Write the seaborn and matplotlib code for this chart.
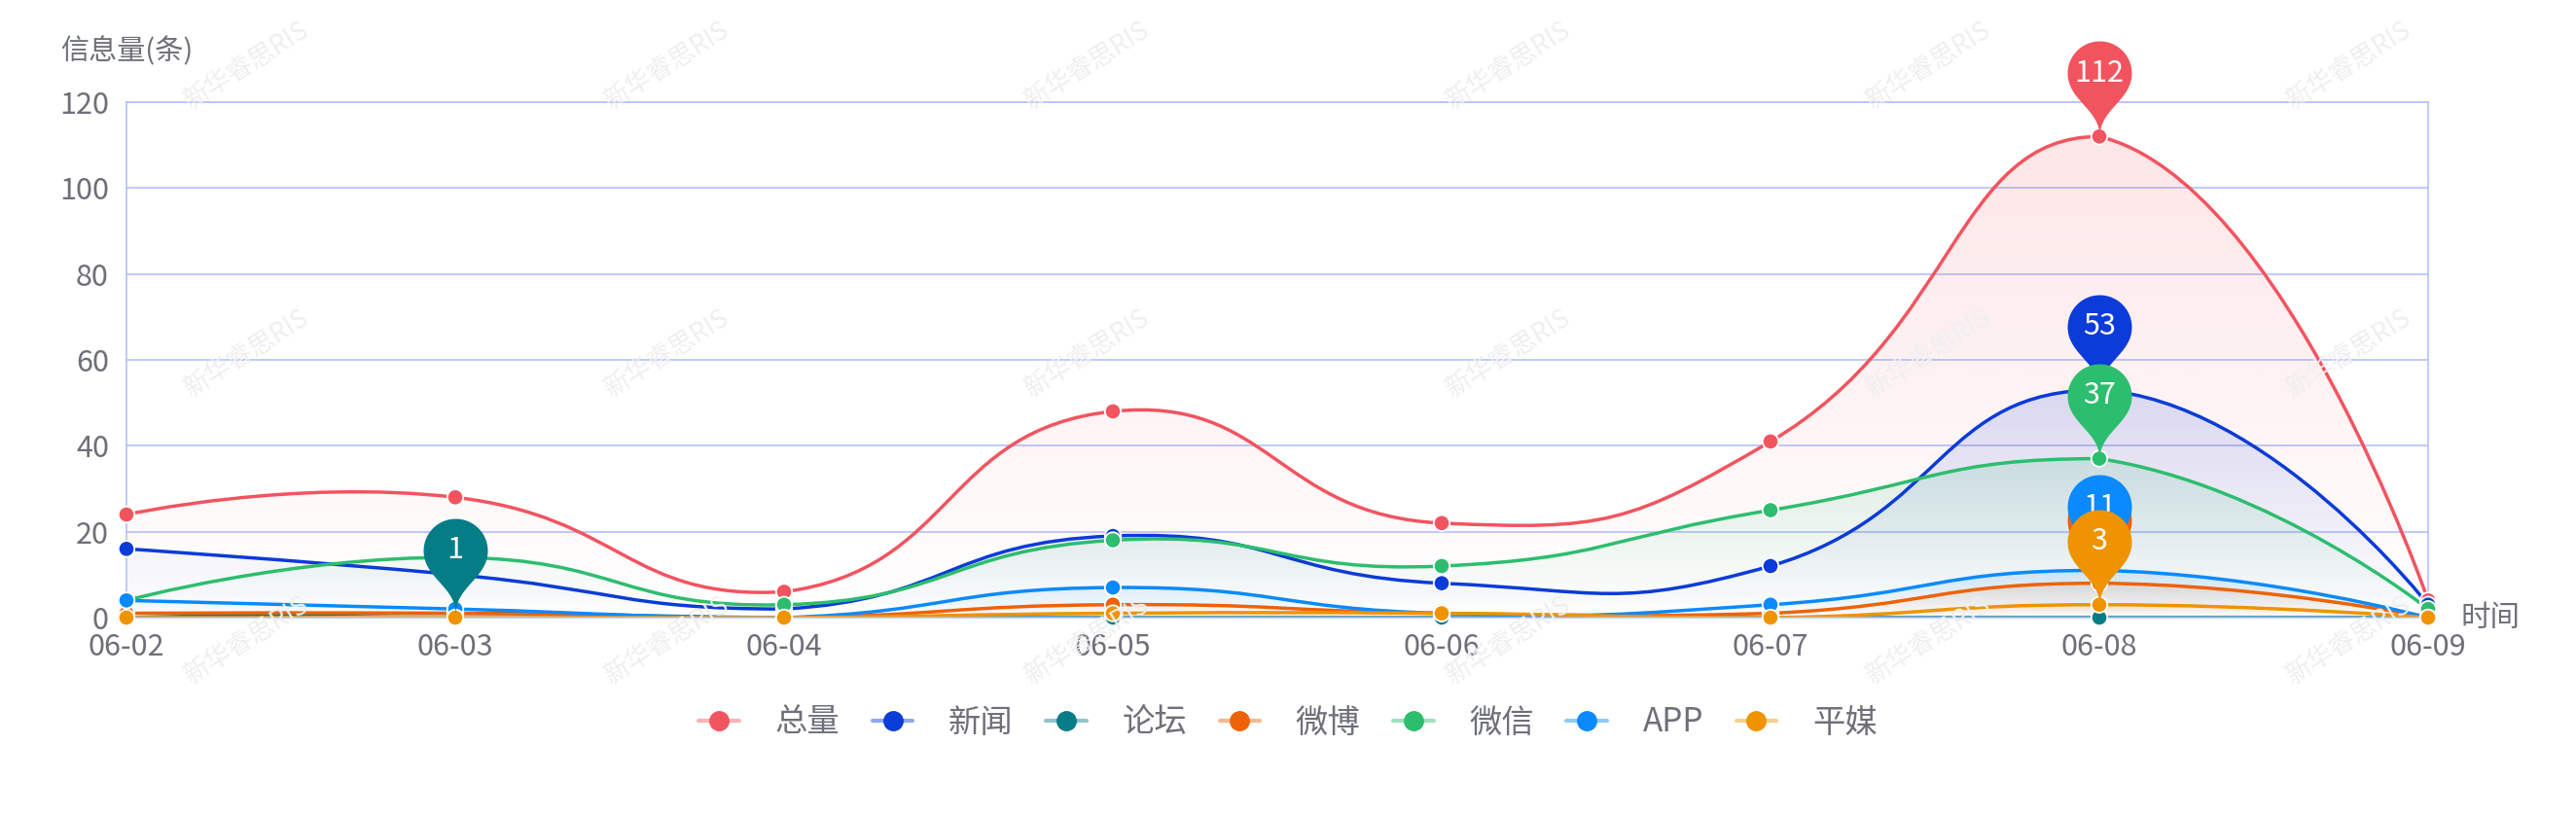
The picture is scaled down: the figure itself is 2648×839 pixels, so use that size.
import numpy as np
import pandas as pd
import matplotlib
matplotlib.use('Agg')
import matplotlib.pyplot as plt
import seaborn as sns
from matplotlib.path import Path
from matplotlib.patches import PathPatch
from matplotlib.lines import Line2D
from matplotlib.legend_handler import HandlerTuple
from matplotlib.colors import to_rgb

# data
dates = ['06-02', '06-03', '06-04', '06-05', '06-06', '06-07', '06-08', '06-09']
series_names = ['总量', '新闻', '论坛', '微博', '微信', 'APP', '平媒']
total = [24, 28, 6, 48, 22, 41, 112, 4]
news = [16, 10, 2, 19, 8, 12, 53, 3]
forum = [0, 1, 0, 0, 0, 0, 0, 0]
weibo = [1, 1, 0, 3, 1, 1, 8, 0]
wechat = [4, 14, 3, 18, 12, 25, 37, 2]
app = [4, 2, 0, 7, 1, 3, 11, 0]
print_media = [0, 0, 0, 1, 1, 0, 3, 0]
y_ticks = [0, 20, 40, 60, 80, 100, 120]

colors = ['#f2545f', '#0b3bd8', '#047d87', '#ee6206', '#2dbd6e', '#0a8afc', '#ef9300']
all_values = [total, news, forum, weibo, wechat, app, print_media]

rows = []
for name, vals in zip(series_names, all_values):
    for i, v in enumerate(vals):
        rows.append({'series': name, 'idx': i, 'value': v})
df = pd.DataFrame(rows)

sns.set_theme(style='white')
plt.rcParams['font.family'] = ['Noto Sans CJK SC', 'DejaVu Sans']
text_color = '#6e7079'
grid_color = '#b4c1fb'

fig = plt.figure(figsize=(26.48, 8.39), dpi=100)
ax = fig.add_axes([130 / 2648, 1 - 635 / 839, (2496 - 130) / 2648, (635 - 105) / 839])
ax.set_xlim(0, len(dates) - 1)
ax.set_ylim(0, 120)

# faint watermark
for yy in [40, 215, 390]:
    for xx in range(150, 1568, 256):
        fig.text(xx / 1568, 1 - yy / 497, '新华睿思RIS', rotation=32, color='#efeff1',
                 fontsize=19, ha='center', va='center', zorder=0)


def smooth_curve(xs, ys, smooth=0.5):
    pts = ax.transData.transform(np.column_stack([xs, ys]).astype(float))
    lo, hi = pts.min(axis=0), pts.max(axis=0)
    n = len(pts)
    cps = []
    for i in range(n):
        p = pts[i]
        if i == 0 or i == n - 1:
            cps.append((p, p))
            continue
        v = (pts[i + 1] - pts[i - 1]) * smooth
        d0 = np.hypot(*(p - pts[i - 1]))
        d1 = np.hypot(*(p - pts[i + 1]))
        s = d0 + d1
        if s:
            d0, d1 = d0 / s, d1 / s
        c0 = np.clip(p - v * d0, lo, hi)
        c1 = np.clip(p + v * d1, lo, hi)
        cps.append((c0, c1))
    verts = [pts[0]]
    codes = [Path.MOVETO]
    for i in range(n - 1):
        verts += [cps[i][1], cps[i + 1][0], pts[i + 1]]
        codes += [Path.CURVE4] * 3
    verts = ax.transData.inverted().transform(np.array(verts))
    return verts, codes


x = np.arange(len(dates))

# gradient areas
for k, (vals, col) in enumerate(zip(all_values, colors)):
    verts, codes = smooth_curve(x, vals)
    area_verts = np.vstack([verts, [[x[-1], 0], [x[0], 0], verts[0]]])
    area_codes = codes + [Path.LINETO, Path.LINETO, Path.CLOSEPOLY]
    patch = PathPatch(Path(area_verts, area_codes), facecolor='none', edgecolor='none',
                      transform=ax.transData)
    ax.add_patch(patch)
    grad = np.zeros((256, 1, 4))
    grad[..., :3] = to_rgb(col)
    grad[:, 0, 3] = np.linspace(0.15, 0.0, 256)
    top = max(max(vals), 0.5)
    im = ax.imshow(grad, extent=[x[0], x[-1], 0, top], origin='upper', aspect='auto',
                   zorder=1 + k * 0.01, interpolation='bilinear')
    im.set_clip_path(patch)

# smooth lines
for k, (vals, col) in enumerate(zip(all_values, colors)):
    verts, codes = smooth_curve(x, vals)
    ax.add_patch(PathPatch(Path(verts, codes), facecolor='none', edgecolor=col, lw=2.5,
                           zorder=2 + k * 0.01, capstyle='round'))

sns.scatterplot(data=df, x='idx', y='value', hue='series', hue_order=series_names,
                palette=colors, s=140, edgecolor='white', linewidth=1.3, legend=False,
                ax=ax, zorder=3, clip_on=False)

# max pins (echarts style)
r_px, c_px = 33.0, 65.0
u = c_px + 13.8
dy = r_px ** 2 / u
ang = np.arcsin(dy / r_px)
dx = np.cos(ang) * r_px
tx, ty = np.sin(ang), np.cos(ang)
cp_len, cp_len2 = r_px * 0.6, r_px * 0.7
theta = np.linspace(-ang, np.pi + ang, 60)
arc = np.column_stack([r_px * np.cos(theta), c_px + r_px * np.sin(theta)])
t = np.linspace(0, 1, 20)[:, None]


def bez(p0, p1, p2, p3):
    p0, p1, p2, p3 = map(np.array, (p0, p1, p2, p3))
    return (1 - t) ** 3 * p0 + 3 * (1 - t) ** 2 * t * p1 + 3 * (1 - t) * t ** 2 * p2 + t ** 3 * p3


left = (-dx, c_px - dy)
right = (dx, c_px - dy)
b1 = bez(left, (-dx + tx * cp_len, c_px - dy - ty * cp_len), (0, cp_len2), (0, 0))
b2 = bez((0, 0), (0, cp_len2), (dx - tx * cp_len, c_px - dy - ty * cp_len), right)
pin_verts = np.vstack([arc, b1, b2])
pin_path = Path(pin_verts, closed=False)
top_px = pin_verts[:, 1].max()
ms_pt = 2 * top_px * 72 / fig.dpi

for k, (vals, col) in enumerate(zip(all_values, colors)):
    i = int(np.argmax(vals))
    ax.scatter([x[i]], [vals[i]], marker=pin_path, s=ms_pt ** 2, color=col,
               linewidths=0, zorder=5 + k * 0.01, clip_on=False)
    ax.annotate(str(vals[i]), xy=(x[i], vals[i]), xytext=(0, c_px * 72 / fig.dpi),
                textcoords='offset points', ha='center', va='center', color='white',
                fontsize=22, zorder=5.005 + k * 0.01)

# axes styling
ax.set_xticks(x)
ax.set_xticklabels(dates)
ax.set_yticks(y_ticks)
ax.tick_params(axis='both', length=0, labelsize=22, colors=text_color)
ax.tick_params(axis='x', pad=11)
ax.tick_params(axis='y', pad=13)
ax.set_xlabel('')
ax.set_ylabel('')
ax.grid(axis='y', color=grid_color, lw=1.2)
ax.grid(axis='x', visible=False)
for sp in ['left', 'right', 'top', 'bottom']:
    ax.spines[sp].set_color(grid_color)
    ax.spines[sp].set_linewidth(1.2)
ax.set_axisbelow(True)

ax.annotate('信息量(条)', xy=(0, 1), xycoords='axes fraction', xytext=(0, 37),
            textcoords='offset points', ha='center', va='center', fontsize=21, color=text_color)
ax.annotate('时间', xy=(1, 0), xycoords='axes fraction', xytext=(24, 0),
            textcoords='offset points', ha='left', va='center', fontsize=22, color=text_color)

handles = [(Line2D([0], [0], color=c, lw=3, alpha=0.45),
            Line2D([0], [0], color=c, marker='o', ms=14, lw=0)) for c in colors]
fig.legend(handles, series_names, handler_map={tuple: HandlerTuple(ndivide=1)},
           loc='center', bbox_to_anchor=(0.5, 1 - 743 / 839), ncol=7, frameon=False,
           fontsize=24, handlelength=1.25, handletextpad=1.1, columnspacing=1.0,
           labelcolor=text_color)

fig.savefig('out.png', dpi=100, facecolor='white')
